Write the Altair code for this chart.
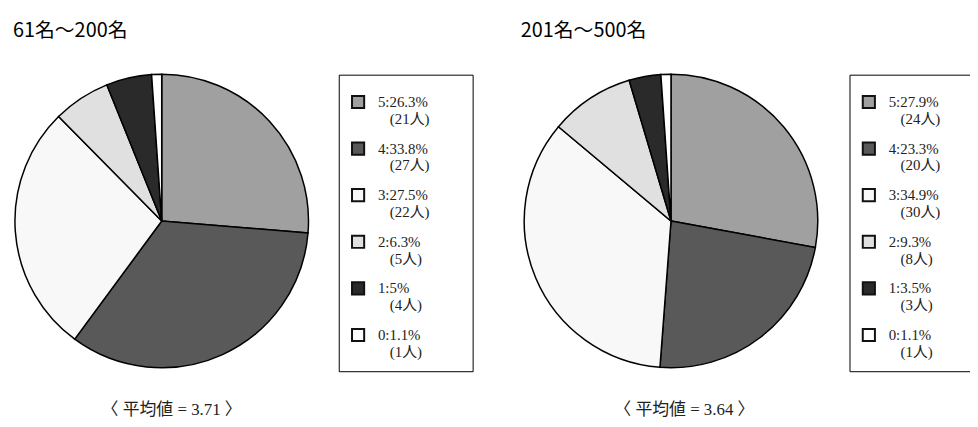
import altair as alt
import pandas as pd

cats = ["5", "4", "3", "2", "1", "0"]
fills = ["#a0a0a0", "#595959", "#f8f8f8", "#e0e0e0", "#2a2a2a", "#ffffff"]

titles = ["61名～200名", "201名～500名"]
means = ["3.71", "3.64"]

pct_a = [26.3, 33.8, 27.5, 6.3, 5.0, 1.1]
cnt_a = [21, 27, 22, 5, 4, 1]
lab_a = ["5:26.3%", "4:33.8%", "3:27.5%", "2:6.3%", "1:5%", "0:1.1%"]

pct_b = [27.9, 23.3, 34.9, 9.3, 3.5, 1.1]
cnt_b = [24, 20, 30, 8, 3, 1]
lab_b = ["5:27.9%", "4:23.3%", "3:34.9%", "2:9.3%", "1:3.5%", "0:1.1%"]


def frame(pcts, cnts, labs):
    return pd.DataFrame({
        "cat": cats,
        "pct": pcts,
        "ord": list(range(len(cats))),
        "l1": labs,
        "l2": [f"({c}人)" for c in cnts],
    })


df_a = frame(pct_a, cnt_a, lab_a)
df_b = frame(pct_b, cnt_b, lab_b)

color = alt.Color("cat:N", scale=alt.Scale(domain=cats, range=fills), legend=None)
ypos = alt.Y("cat:N", scale=alt.Scale(type="point", domain=cats, range=[93, 328], padding=0), axis=None)

SERIF = "Liberation Serif, Noto Sans CJK JP"
SANS = "Noto Sans CJK JP"


def panel(df, cx, box_x, title, mean, title_x, mean_x):
    box = alt.Chart(pd.DataFrame({"a": [0]})).mark_rect(
        fill="white", stroke="black", strokeWidth=1
    ).encode(x=alt.value(box_x), x2=alt.value(box_x + 135), y=alt.value(66), y2=alt.value(365))
    pie = alt.Chart(df).mark_arc(radius=148, stroke="black", strokeWidth=1.5).encode(
        theta=alt.Theta("pct:Q", stack=True),
        color=color,
        order=alt.Order("ord:Q"),
        x=alt.value(cx),
        y=alt.value(213),
    )
    sq = alt.Chart(df).mark_square(size=150, stroke="#111111", strokeWidth=2, opacity=1).encode(
        x=alt.value(box_x + 19), y=ypos, color=color
    )
    t1 = alt.Chart(df).mark_text(
        align="left", baseline="middle", font=SERIF, fontSize=15, color="#222222"
    ).encode(x=alt.value(box_x + 39), y=ypos, text="l1:N")
    t2 = alt.Chart(df).mark_text(
        align="left", baseline="middle", font=SERIF, fontSize=15, color="#222222", dy=17
    ).encode(x=alt.value(box_x + 51), y=ypos, text="l2:N")
    tt = alt.Chart(pd.DataFrame({"t": [title]})).mark_text(
        align="left", baseline="middle", font=SANS, fontSize=20, color="black"
    ).encode(x=alt.value(title_x), y=alt.value(21), text="t:N")
    mt = alt.Chart(pd.DataFrame({"t": [f"〈 平均値 = {mean} 〉"]})).mark_text(
        align="center", baseline="middle", font=SERIF, fontSize=17, color="#222222"
    ).encode(x=alt.value(mean_x), y=alt.value(404), text="t:N")
    return [box, pie, sq, t1, t2, tt, mt]


layers = panel(df_a, 155, 334, titles[0], means[0], 5, 165) + \
    panel(df_b, 668.5, 849, titles[1], means[1], 517, 682)

chart = alt.layer(*layers).resolve_scale(theta="independent").properties(
    width=970, height=419, autosize=alt.AutoSizeParams(type="none"), padding=0
).configure_view(stroke=None)

chart.save("out.html", embed_options={"renderer": "svg", "actions": False})
